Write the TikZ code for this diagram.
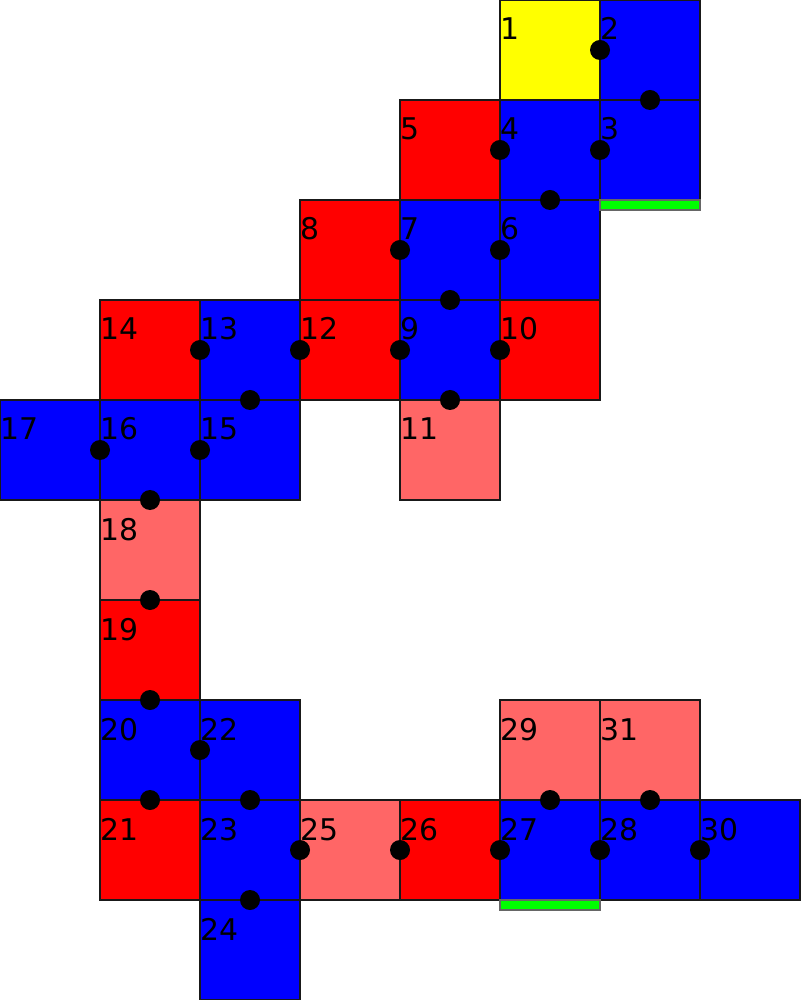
\documentclass[tikz,border=0pt]{standalone}
\usepackage{fontspec}
\setmainfont{DejaVu Sans}
\definecolor{Red}{HTML}{FF0000}
\definecolor{Blue}{HTML}{0000FF}
\definecolor{Yellow}{HTML}{FFFF00}
\definecolor{LightRed}{HTML}{FF6666}
\definecolor{Green}{HTML}{00FF00}
\usepackage{tikz}
\usetikzlibrary{calc, positioning}
\begin{document}
\begin{tikzpicture}[x=1cm, y=-1cm,
    cell/.style={draw=black!90, line width=0.3pt, minimum size=1cm, inner sep=0pt, outer sep=0pt},
    num/.style={inner sep=0pt, anchor=base west, font=\fontsize{8.5}{10}\selectfont},
    strip/.style={draw=black!60, line width=0.3pt, fill=Green}]
    \useasboundingbox (0,0) rectangle (8,10);
    % squares: number / column / row / colour
    \foreach \n/\x/\y/\c in {1/5/0/Yellow, 2/6/0/Blue, 3/6/1/Blue, 4/5/1/Blue, 5/4/1/Red,
        6/5/2/Blue, 7/4/2/Blue, 8/3/2/Red, 9/4/3/Blue, 10/5/3/Red, 11/4/4/LightRed,
        12/3/3/Red, 13/2/3/Blue, 14/1/3/Red, 15/2/4/Blue, 16/1/4/Blue, 17/0/4/Blue,
        18/1/5/LightRed, 19/1/6/Red, 20/1/7/Blue, 21/1/8/Red, 22/2/7/Blue, 23/2/8/Blue,
        24/2/9/Blue, 25/3/8/LightRed, 26/4/8/Red, 27/5/8/Blue, 28/6/8/Blue,
        29/5/7/LightRed, 30/7/8/Blue, 31/6/7/LightRed} {
        \node[cell, fill=\c] (s\n) at (\x+0.5,\y+0.5) {};
        \node[num] (t\n) at ([xshift=-0.005cm, yshift=-0.40cm]s\n.north west) {\n};
    }
    % green strips
    \draw[strip] (s3.south west) rectangle ++(1,0.1);
    \draw[strip] (s27.south west) rectangle ++(1,0.1);
    % joints between neighbouring squares
    \foreach \a/\b in {1/2, 2/3, 3/4, 4/5, 4/6, 7/8, 6/7, 7/9, 13/14, 12/13, 9/12, 9/10,
        13/15, 9/11, 16/17, 15/16, 16/18, 18/19, 19/20, 20/22, 20/21, 22/23, 23/25,
        25/26, 26/27, 27/29, 27/28, 28/31, 28/30, 23/24}
        \fill[black] ($(s\a)!0.5!(s\b)$) circle (0.1);
\end{tikzpicture}
\end{document}
